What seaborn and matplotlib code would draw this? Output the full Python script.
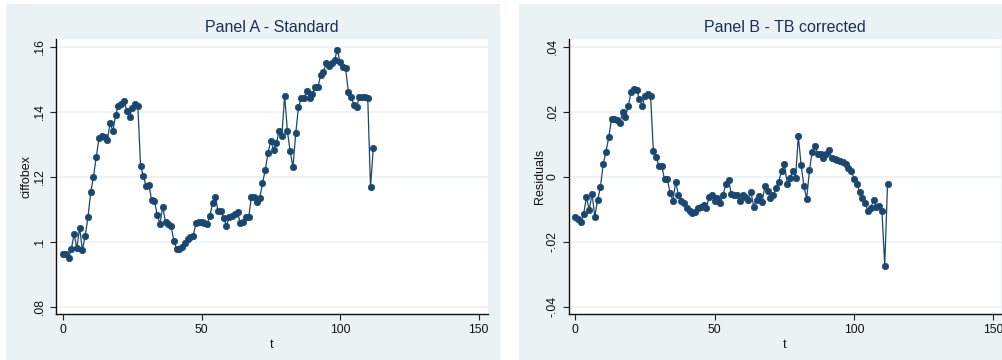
# Panel A (ciffobex) e Panel B (residuos corrigidos), estilo Stata
import numpy as np
import pandas as pd
from matplotlib import pyplot as plt
from matplotlib.patches import Rectangle
from matplotlib.ticker import FixedLocator, FuncFormatter
import seaborn as sb

# Dados (t = 0..112)
t = np.arange(113)

ciffobex = [
    .0962, .0962, .0950, .0978, .1024, .0980, .1044, .0974, .1019, .1075,
    .1153, .1200, .1261, .1319, .1326, .1322, .1314, .1365, .1341, .1391,
    .1419, .1425, .1434, .1403, .1384, .1411, .1423, .1419, .1233, .1202,
    .1172, .1175, .1128, .1125, .1084, .1055, .1108, .1060, .1055, .1050,
    .1003, .0978, .0978, .0983, .0995, .1008, .1015, .1019, .1057, .1060,
    .1060, .1057, .1055, .1080, .1118, .1137, .1094, .1094, .1072, .1050,
    .1075, .1078, .1086, .1091, .1057, .1062, .1077, .1075, .1137, .1137,
    .1121, .1134, .1180, .1221, .1273, .1311, .1284, .1303, .1342, .1327,
    .1450, .1340, .1279, .1229, .1334, .1414, .1443, .1443, .1463, .1443,
    .1455, .1476, .1476, .1512, .1522, .1550, .1542, .1550, .1558, .1591,
    .1553, .1537, .1534, .1462, .1447, .1421, .1414, .1447, .1445, .1447,
    .1443, .1168, .1288,
]

residuals = [
    -.0125, -.0131, -.0141, -.0115, -.0063, -.0102, -.0053, -.0123, -.0072, -.0033,
    .0038, .0077, .0121, .0178, .0178, .0174, .0166, .0200, .0185, .0218,
    .0260, .0270, .0267, .0239, .0218, .0248, .0254, .0249, .0079, .0060,
    .0033, .0033, -.0008, -.0008, -.0049, -.0074, -.0017, -.0056, -.0074, -.0080,
    -.0097, -.0106, -.0113, -.0108, -.0097, -.0092, -.0087, -.0097, -.0062, -.0056,
    -.0075, -.0065, -.0082, -.0056, -.0023, -.0010, -.0054, -.0058, -.0056, -.0075,
    -.0056, -.0063, -.0071, -.0048, -.0092, -.0071, -.0061, -.0079, -.0029, -.0043,
    -.0065, -.0058, -.0034, -.0015, .0018, .0039, -.0022, -.0005, .0018, -.0005,
    .0125, .0036, -.0028, -.0069, .0021, .0077, .0094, .0070, .0070, .0057,
    .0070, .0082, .0057, .0054, .0051, .0048, .0044, .0038, .0028, .0018,
    -.0008, -.0023, -.0046, -.0065, -.0082, -.0106, -.0097, -.0071, -.0092, -.0089,
    -.0106, -.0274, -.0023,
]

titles = ['Panel A - Standard', 'Panel B - TB corrected']
ylabels = ['ciffobex', 'Residuals']
yticks_a = [.08, .10, .12, .14, .16]
yticks_b = [-.04, -.02, 0, .02, .04]
xticks = [0, 50, 100, 150]

sb.set_style('white')
plt.rcParams['font.family'] = ['Liberation Sans', 'DejaVu Sans']

cor = '#1a476f'
fundo = '#eaf2f3'
texto_titulo = '#1e2d54'

def fmt(v, pos=None):
    s = f'{v:g}'
    return s.replace('-0.', '-.').replace('0.', '.') if s not in ('0', '-0') else '0'

fig = plt.figure(figsize=(10.02, 3.6), dpi=100, facecolor='white')
fig.patches.append(Rectangle((6/1002, 0), 494/1002, 356/360, transform=fig.transFigure,
                             facecolor=fundo, edgecolor='none', zorder=-10))
fig.patches.append(Rectangle((519/1002, 0), 483/1002, 356/360, transform=fig.transFigure,
                             facecolor=fundo, edgecolor='none', zorder=-10))

ax_a = fig.add_axes([55.7/1002, 45.7/360, 432/1002, 275.3/360])
ax_b = fig.add_axes([568.7/1002, 45.7/360, 432/1002, 275.3/360])

dados = [
    (ax_a, ciffobex, yticks_a, (-2.64, 153.3), (0.0777, 0.1624)),
    (ax_b, residuals, yticks_b, (-2.37, 152.6), (-0.0424, 0.0424)),
]

for i, (ax, y, yt, xl, yl) in enumerate(dados):
    df = pd.DataFrame({'t': t, 'y': y})
    ax.set_zorder(5)
    ax.set_facecolor('white')
    for v in yt:
        ax.axhline(v, color=fundo, lw=1.2, zorder=0)
    sb.lineplot(data=df, x='t', y='y', ax=ax, color=cor, lw=0.9, marker='o',
                markersize=4.6, markeredgecolor=cor, markeredgewidth=0.5)
    ax.set_xlim(*xl)
    ax.set_ylim(*yl)
    ax.xaxis.set_major_locator(FixedLocator(xticks))
    ax.yaxis.set_major_locator(FixedLocator(yt))
    ax.yaxis.set_major_formatter(FuncFormatter(fmt))
    ax.tick_params(axis='both', direction='out', length=4, width=0.8, color='#222222',
                   labelsize=8.8, labelcolor='#111111', pad=3, left=True, bottom=True)
    for lab in ax.get_yticklabels():
        lab.set_rotation(90)
        lab.set_va('center')
    for s in ['top', 'right']:
        ax.spines[s].set_visible(False)
    for s in ['left', 'bottom']:
        ax.spines[s].set_color('#111111')
        ax.spines[s].set_linewidth(1.0)
    ax.set_title(titles[i], fontsize=11.5, color=texto_titulo, pad=5)
    ax.set_xlabel('t', fontsize=9, color='#111111', labelpad=2)
    ax.set_ylabel(ylabels[i], fontsize=9, color='#111111', labelpad=1)

plt.savefig('out.png', dpi=100, facecolor='white')
plt.close()
